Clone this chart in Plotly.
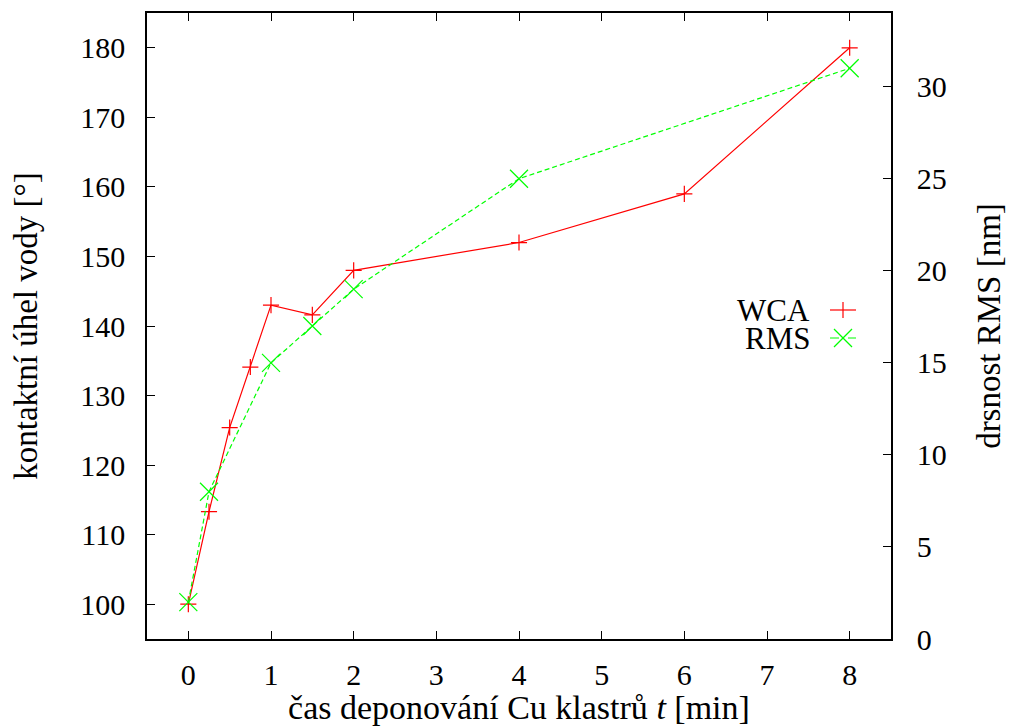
import plotly.graph_objects as go

# data
wca_t = [0, 0.25, 0.5, 0.75, 1, 1.5, 2, 4, 6, 8]
wca_val = [100, 113.3, 125.4, 134.1, 143.0, 141.6, 148.0, 152.0, 159.0, 180.0]
rms_t = [0, 0.25, 1, 1.5, 2, 4, 8]
rms_val = [2, 8, 15, 17, 19, 25, 31]

x_ticks = [0, 1, 2, 3, 4, 5, 6, 7, 8]
y_ticks = [100, 110, 120, 130, 140, 150, 160, 170, 180]
y2_ticks = [0, 5, 10, 15, 20, 25, 30]

FONT = "Liberation Serif"
RED = "#ff0000"
GREEN = "#00ff00"

W, H = 1010, 726
L, R, T, B = 147, 119, 13, 87
PW, PH = W - L - R, H - T - B

fig = go.Figure()
fig.add_trace(go.Scatter(
    x=wca_t, y=wca_val, mode="lines+markers", name="WCA",
    line=dict(color=RED, width=1.2),
    marker=dict(symbol="cross-thin", size=11.5, line=dict(color=RED, width=1.2)),
    showlegend=False))
fig.add_trace(go.Scatter(
    x=rms_t, y=rms_val, mode="lines+markers", name="RMS", yaxis="y2",
    line=dict(color=GREEN, width=1.2, dash="5px,3px"),
    marker=dict(symbol="x-thin", size=18, line=dict(color=GREEN, width=1.2)),
    showlegend=False))

axis_common = dict(showline=True, linecolor="black", linewidth=1.5,
                   ticks="inside", ticklen=8, tickwidth=1.2, tickcolor="black",
                   showgrid=False, zeroline=False, automargin=False,
                   tickfont=dict(family=FONT, size=30, color="black"))

fig.update_layout(
    width=W, height=H,
    margin=dict(l=L, r=R, t=T, b=B, autoexpand=False),
    plot_bgcolor="white", paper_bgcolor="white",
    font=dict(family=FONT, color="black"),
    xaxis=dict(range=[-0.5, 8.5], tickvals=x_ticks, mirror="ticks",
               ticklabelstandoff=8,
               title=dict(text="čas deponování Cu klastrů <i>t</i> [min]",
                          font=dict(family=FONT, size=34), standoff=9),
               **axis_common),
    yaxis=dict(range=[95, 185], tickvals=y_ticks, ticklabelstandoff=14,
               title=dict(text="kontaktní úhel vody [°]",
                          font=dict(family=FONT, size=33), standoff=33),
               **axis_common),
    yaxis2=dict(range=[0, 34], tickvals=y2_ticks, overlaying="y", side="right",
                ticklabelstandoff=18,
                title=dict(text="drsnost RMS [nm]",
                           font=dict(family=FONT, size=33), standoff=31),
                **axis_common),
)

# manual gnuplot-style legend (text left, sample right)
def px(x):
    return (x - L) / PW

def py(y):
    return (H - B - y) / PH

legend_rows = [("WCA", 310, RED, "plus", None), ("RMS", 338, GREEN, "x", "dash")]
for label, yc, col, sym, dash in legend_rows:
    fig.add_annotation(x=px(812), y=py(yc), xref="paper", yref="paper",
                       text=label, showarrow=False, xanchor="right", yanchor="middle",
                       font=dict(family=FONT, size=31, color="black"))
    fig.add_shape(type="line", xref="paper", yref="paper",
                  x0=px(830), x1=px(856), y0=py(yc), y1=py(yc),
                  line=dict(color=col, width=1.2, dash=dash))
    if sym == "plus":
        fig.add_shape(type="line", xref="paper", yref="paper",
                      x0=px(843), x1=px(843), y0=py(yc - 8), y1=py(yc + 8),
                      line=dict(color=col, width=1.2))
    else:
        fig.add_shape(type="line", xref="paper", yref="paper",
                      x0=px(834), x1=px(852), y0=py(yc - 9), y1=py(yc + 9),
                      line=dict(color=col, width=1.2))
        fig.add_shape(type="line", xref="paper", yref="paper",
                      x0=px(834), x1=px(852), y0=py(yc + 9), y1=py(yc - 9),
                      line=dict(color=col, width=1.2))

fig.write_html("out.html")
